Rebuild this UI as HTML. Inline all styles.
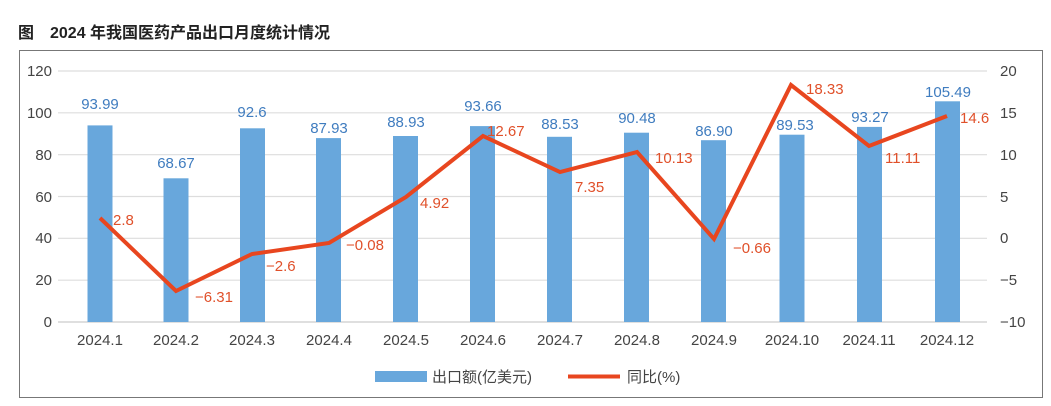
<!DOCTYPE html>
<html><head><meta charset="utf-8"><style>
html,body{margin:0;padding:0;background:#fff;}
svg{display:block;font-family:"Liberation Sans","Noto Sans CJK SC",sans-serif;}
</style></head><body>
<svg width="1051" height="406" viewBox="0 0 1051 406" xmlns="http://www.w3.org/2000/svg">
<text x="18" y="38" font-size="16" font-weight="bold" fill="#222">图　2024 年我国医药产品出口月度统计情况</text>
<rect x="19.5" y="50.5" width="1023" height="347" fill="none" stroke="#777" stroke-width="1"/>
<g stroke="#ddd" stroke-width="1.2">
<line x1="58" x2="987" y1="71" y2="71"/><line x1="58" x2="987" y1="112.8" y2="112.8"/>
<line x1="58" x2="987" y1="154.7" y2="154.7"/><line x1="58" x2="987" y1="196.5" y2="196.5"/>
<line x1="58" x2="987" y1="238.3" y2="238.3"/><line x1="58" x2="987" y1="280.2" y2="280.2"/>
<line x1="58" x2="987" y1="322" y2="322" stroke="#ccc"/>
</g>
<g font-size="15" fill="#444" text-anchor="end">
<text x="52" y="76">120</text><text x="52" y="118">100</text><text x="52" y="160">80</text>
<text x="52" y="202">60</text><text x="52" y="243">40</text><text x="52" y="285">20</text><text x="52" y="327">0</text>
</g>
<g font-size="15" fill="#444" text-anchor="start">
<text x="1000" y="76">20</text><text x="1000" y="118">15</text><text x="1000" y="160">10</text>
<text x="1000" y="202">5</text><text x="1000" y="243">0</text><text x="1000" y="285">−5</text><text x="1000" y="327">−10</text>
</g>
<g fill="#68a7dc">
<rect x="87.5" y="125.4" width="25" height="196.6"/>
<rect x="163.5" y="178.3" width="25" height="143.7"/>
<rect x="240" y="128.3" width="25" height="193.7"/>
<rect x="316" y="138.1" width="25" height="183.9"/>
<rect x="393" y="136" width="25" height="186"/>
<rect x="470" y="126.1" width="25" height="195.9"/>
<rect x="547" y="136.8" width="25" height="185.2"/>
<rect x="624" y="132.7" width="25" height="189.3"/>
<rect x="701" y="140.2" width="25" height="181.8"/>
<rect x="779.5" y="134.7" width="25" height="187.3"/>
<rect x="857" y="126.9" width="25" height="195.1"/>
<rect x="935" y="101.3" width="25" height="220.7"/>
</g>
<g font-size="15" fill="#3f7cbf" text-anchor="middle">
<text x="100" y="109">93.99</text><text x="176" y="168">68.67</text><text x="252" y="117">92.6</text>
<text x="329" y="133">87.93</text><text x="406" y="127">88.93</text><text x="483" y="111">93.66</text>
<text x="560" y="129">88.53</text><text x="637" y="123">90.48</text><text x="714" y="136">86.90</text>
<text x="795" y="130">89.53</text><text x="870" y="122">93.27</text><text x="948" y="97">105.49</text>
</g>
<polyline fill="none" stroke="#e8461f" stroke-width="4" stroke-linejoin="miter"
points="100,218 176,291 252,254 329,243 406,197 483,136 560,172 637,152 714,239 791,85 869,146 947,116"/>
<g font-size="15" fill="#e0502a">
<text x="113" y="225">2.8</text><text x="195" y="302">−6.31</text><text x="266" y="271">−2.6</text>
<text x="346" y="250">−0.08</text><text x="420" y="208">4.92</text><text x="487" y="136">12.67</text>
<text x="575" y="192">7.35</text><text x="655" y="163">10.13</text><text x="733" y="253">−0.66</text>
<text x="806" y="94">18.33</text><text x="885" y="163">11.11</text><text x="960" y="123">14.6</text>
</g>
<g font-size="15" fill="#444">
<text x="83" y="345" text-anchor="middle" dx="17">2024.1</text>
<text x="176" y="345" text-anchor="middle">2024.2</text><text x="252" y="345" text-anchor="middle">2024.3</text>
<text x="329" y="345" text-anchor="middle">2024.4</text><text x="406" y="345" text-anchor="middle">2024.5</text>
<text x="483" y="345" text-anchor="middle">2024.6</text><text x="560" y="345" text-anchor="middle">2024.7</text>
<text x="637" y="345" text-anchor="middle">2024.8</text><text x="714" y="345" text-anchor="middle">2024.9</text>
<text x="792" y="345" text-anchor="middle">2024.10</text><text x="869" y="345" text-anchor="middle">2024.11</text>
<text x="947" y="345" text-anchor="middle">2024.12</text>
</g>
<rect x="375" y="371" width="52" height="11" fill="#68a7dc"/>
<text x="432" y="382" font-size="15" fill="#444">出口额(亿美元)</text>
<line x1="568" x2="620" y1="376.5" y2="376.5" stroke="#e8461f" stroke-width="4"/>
<text x="627" y="382" font-size="15" fill="#444">同比(%)</text>
</svg>
</body></html>
